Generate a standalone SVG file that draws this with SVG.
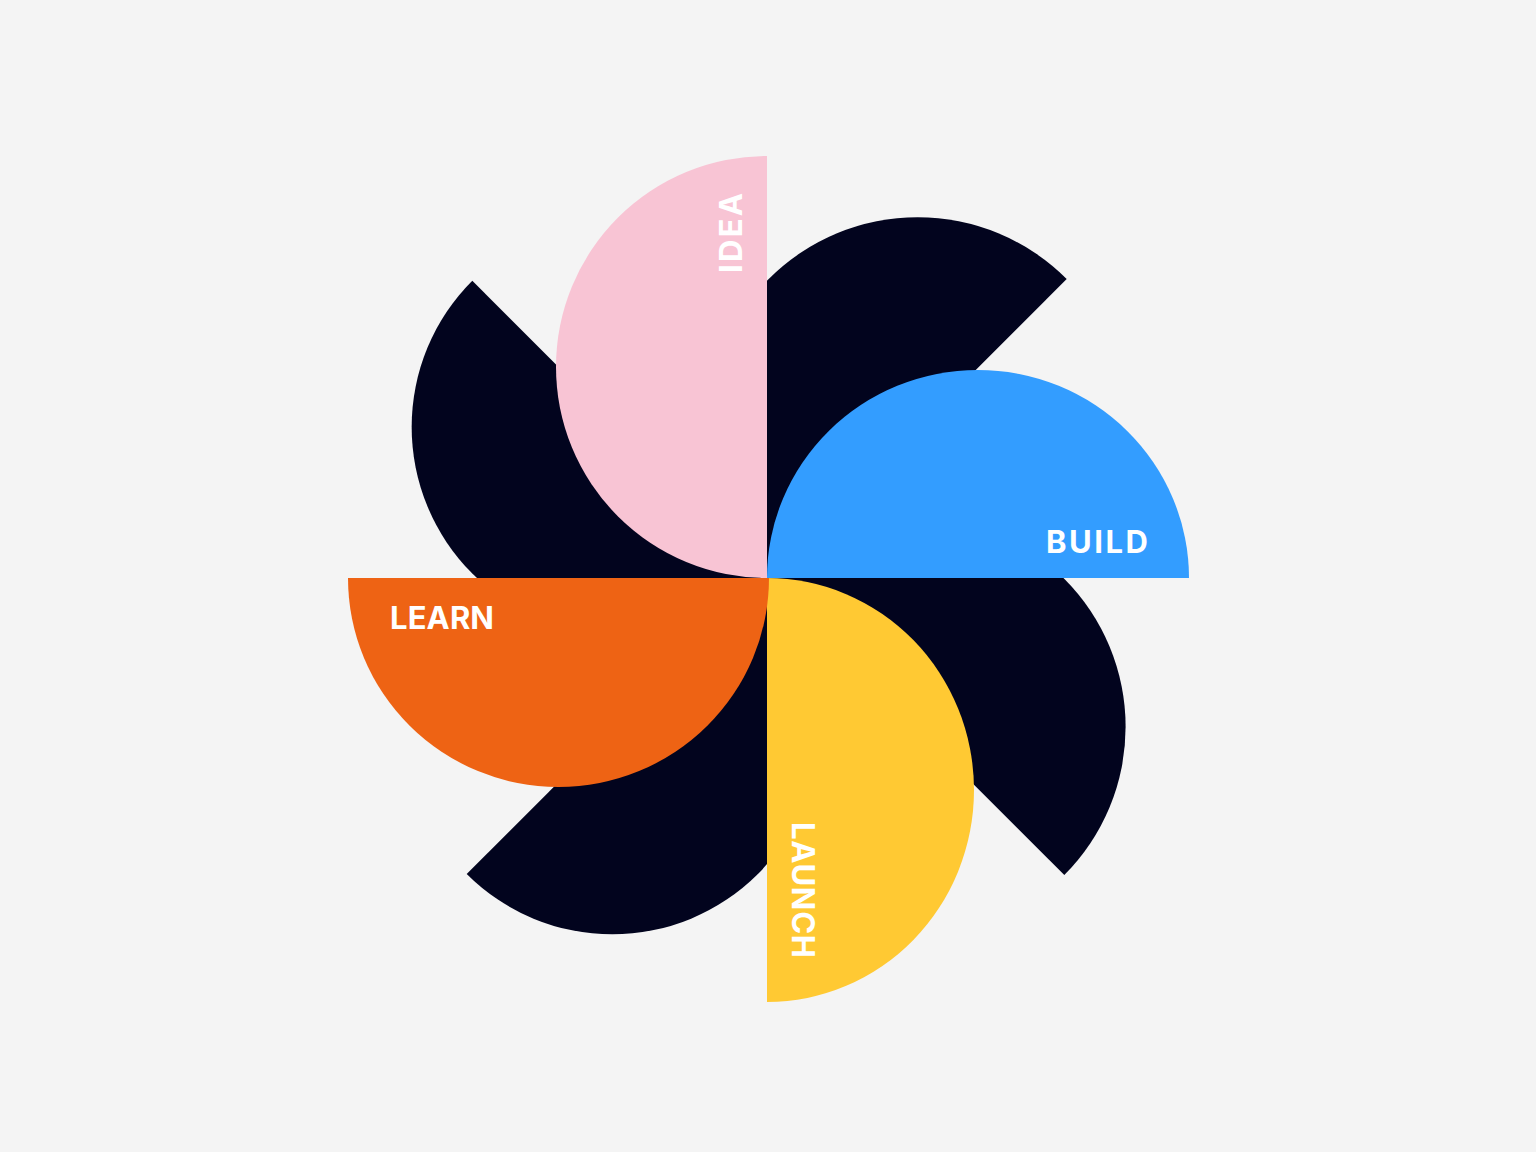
<svg xmlns="http://www.w3.org/2000/svg" width="1536" height="1152" viewBox="0 0 1536 1152">
<style>
.dark{fill:#02041e}
.lbl{fill:#ffffff;font-family:Inter,"Open Sans","Liberation Sans",sans-serif;font-weight:700;font-size:31px}
</style>
<rect width="1536" height="1152" fill="#f4f4f4"/>
<g id="connectors"/>
<g id="blades">
<path id="blade-tr" class="dark" d="M1066.7,279 A200,200 0 0 0 768.7,577 Z"/>
<path id="blade-r" class="dark" d="M767.9,578.6 A200,200 0 0 1 1064.3,875 Z"/>
<path id="blade-bl" class="dark" d="M757.9,582.8 A200,200 0 0 1 466.7,874 Z"/>
<path id="blade-tl" class="dark" d="M765.1,573.5 A200,200 0 0 1 472.3,280.7 Z"/>
</g>
<g id="idea">
<path d="M767,156 A211,211 0 0 0 767,578 Z" fill="#f8c4d4"/>
<text class="lbl" transform="translate(742,273) rotate(-90)" textLength="80">IDEA</text>
</g>
<g id="launch">
<path d="M767,578 A207,212 0 0 1 767,1002 Z" fill="#ffc933"/>
<text class="lbl" transform="translate(792,822) rotate(90)" textLength="136">LAUNCH</text>
</g>
<g id="learn">
<path d="M769,578 A210.5,209 0 0 1 348,578 Z" fill="#ee6314"/>
<text class="lbl" x="390" y="629" textLength="104">LEARN</text>
</g>
<g id="build">
<path d="M767,578 A211,208 0 0 1 1189,578 Z" fill="#339dff"/>
<text class="lbl" x="1046" y="553" textLength="102">BUILD</text>
</g>
</svg>
